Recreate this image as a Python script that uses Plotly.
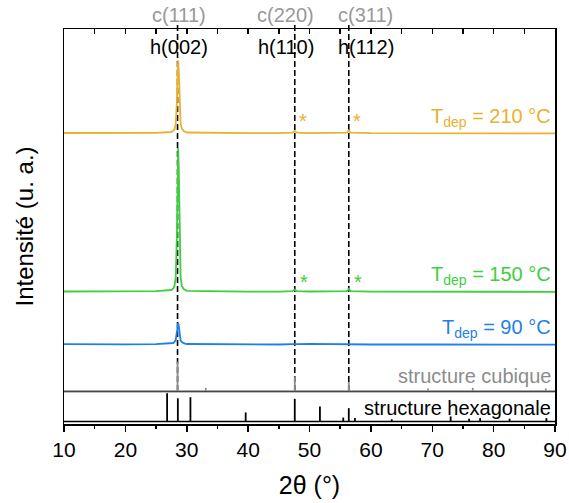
import plotly.graph_objects as go

# ---------------- data ----------------
two_theta = [10, 15, 20, 25, 27.5, 27.8, 28.0, 28.2, 28.4, 28.5, 28.6, 28.7, 28.8, 29.0, 29.2, 29.5, 30,
             35, 40, 45, 47.2, 47.6, 48.0, 50, 55, 56.1, 56.4, 56.7, 60, 70, 80, 90]
i_210 = [0.5, 0.3, 0.4, 0.6, 1.5, 2.5, 4, 9, 32, 62, 73, 63, 34, 10, 5, 2.5, 1,
         0.5, 0.3, 0.4, 0.8, 2.5, 0.8, 0.3, 0.4, 0.8, 3, 0.8, 0.3, 0.2, 0.2, 0.1]
i_150 = [0.5, 0.4, 0.5, 0.8, 2, 3.5, 6, 14, 58, 120, 144, 124, 62, 15, 6, 3, 1.2,
         0.5, 0.4, 0.4, 0.8, 2.5, 0.8, 0.5, 0.4, 0.8, 3, 0.8, 0.4, 0.3, 0.2, 0.2]
i_90 = [0.8, 0.5, 0.7, 0.9, 1.5, 2, 3, 5, 13, 19, 22, 19, 11, 4.5, 3, 1.8, 1,
        0.6, 0.5, 0.5, 0.8, 1, 0.8, 1.2, 0.6, 0.7, 1, 0.7, 0.5, 0.5, 0.4, 0.3]

cub_pos = [28.5, 33.1, 47.6, 56.4, 69.3, 76.6, 88.5]
cub_int = [100, 10, 49, 30, 8, 10, 8]

hex_pos = [26.8, 28.55, 30.6, 39.6, 47.6, 51.7, 55.5, 56.4, 57.4, 63.4, 73.0, 76.0, 77.8, 82.6, 88.6]
hex_int = [100, 82, 86, 32, 80, 53, 14, 47, 12, 8, 18, 10, 12, 10, 12]

ref_lines = [28.5, 47.6, 56.4]
cub_labels = ["c(111)", "c(220)", "c(311)"]
hex_labels = ["h(002)", "h(110)", "h(112)"]
label_x = [28.8, 46.1, 59.2]

series_names = ["T<sub>dep</sub> = 210 °C", "T<sub>dep</sub> = 150 °C", "T<sub>dep</sub> = 90 °C"]

# ---------------- styling / layout constants ----------------
C_210, C_150, C_90 = "#E8B12E", "#3DCF3D", "#1E80E6"
GRAY = "#8c8c8c"
FONT = "Arial, Liberation Sans, sans-serif"
OFF_210, OFF_150, OFF_90 = 290.5, 132, 79
CUB_BASE, CUB_SCALE = 33.2, 0.293
HEX_BASE, HEX_SCALE = 2.5, 0.283
YMAX = 395

def sticks(pos, inten, base, scale):
    xs, ys = [], []
    for p, v in zip(pos, inten):
        xs += [p, p, None]
        ys += [base, base + v * scale, None]
    return xs, ys

fig = go.Figure()
for vals, off, col, nm in [(i_210, OFF_210, C_210, "210"), (i_150, OFF_150, C_150, "150"), (i_90, OFF_90, C_90, "90")]:
    fig.add_trace(go.Scatter(x=two_theta, y=[v + off for v in vals], mode="lines",
                             line=dict(color=col, width=1.8), name=nm, showlegend=False))

cx, cy = sticks(cub_pos, cub_int, CUB_BASE, CUB_SCALE)
fig.add_trace(go.Scatter(x=cx, y=cy, mode="lines", line=dict(color=GRAY, width=1.8), showlegend=False))
hx, hy = sticks(hex_pos, hex_int, HEX_BASE, HEX_SCALE)
fig.add_trace(go.Scatter(x=hx, y=hy, mode="lines", line=dict(color="black", width=1.8), showlegend=False))
# invisible helper for the top axis
fig.add_trace(go.Scatter(x=[10], y=[0], xaxis="x2", mode="markers", marker=dict(opacity=0),
                         hoverinfo="skip", showlegend=False))

shapes = []
for p in ref_lines:
    shapes.append(dict(type="line", xref="x", yref="paper", x0=p, x1=p, y0=33 / YMAX, y1=399 / YMAX,
                       line=dict(color="black", width=1.6, dash="6px,3px"), layer="below"))
# baselines of reference panels
shapes.append(dict(type="line", xref="paper", yref="y", x0=0, x1=1, y0=32.3, y1=32.3,
                   line=dict(color="black", width=1.2)))
shapes.append(dict(type="line", xref="paper", yref="y", x0=0, x1=1, y0=CUB_BASE, y1=CUB_BASE,
                   line=dict(color=GRAY, width=1.2)))
shapes.append(dict(type="line", xref="paper", yref="y", x0=0, x1=1, y0=HEX_BASE, y1=HEX_BASE,
                   line=dict(color="black", width=1.5)))

ann = []
for t, x in zip(cub_labels, label_x):
    ann.append(dict(x=x, y=409 / YMAX, xref="x", yref="paper", text=t, showarrow=False,
                    yanchor="middle", xanchor="center",
                    font=dict(size=20, color="#999999", family=FONT)))
for t, x in zip(hex_labels, label_x):
    ann.append(dict(x=x, y=377, xref="x", yref="y", text=t, showarrow=False,
                    yanchor="middle", xanchor="center",
                    font=dict(size=20, color="black", family=FONT)))
for t, y, c in zip(series_names, [307, 149, 95.5], [C_210, C_150, C_90]):
    ann.append(dict(x=89.7, y=y, xref="x", yref="y", text=t, showarrow=False, xanchor="right",
                    yanchor="middle", font=dict(size=20, color=c, family=FONT)))
for x, y, c in [(48.9, 303, C_210), (57.7, 303, C_210), (49.1, 142, C_150), (57.9, 142, C_150)]:
    ann.append(dict(x=x, y=y, xref="x", yref="y", text="*", showarrow=False,
                    yanchor="middle", font=dict(size=20, color=c, family=FONT)))
ann.append(dict(x=89.7, y=48, xref="x", yref="y", text="structure cubique", showarrow=False,
                xanchor="right", yanchor="middle", font=dict(size=20, color=GRAY, family=FONT)))
ann.append(dict(x=89.7, y=16, xref="x", yref="y", text="structure hexagonale", showarrow=False,
                xanchor="right", yanchor="middle", font=dict(size=20, color="black", family=FONT)))

fig.update_layout(
    width=569, height=503, margin=dict(l=64, r=14, t=29, b=79, autoexpand=False),
    plot_bgcolor="white", paper_bgcolor="white",
    font=dict(family=FONT, size=20, color="black"),
    shapes=shapes, annotations=ann, hovermode=False,
    xaxis=dict(range=[10, 90], tickvals=[10, 20, 30, 40, 50, 60, 70, 80, 90], ticks="outside",
               ticklen=6, tickwidth=1.5, tickcolor="black", showline=True, linecolor="black",
               linewidth=1.5, mirror=True, showgrid=False, zeroline=False, automargin=False,
               minor=dict(dtick=5, tick0=10, ticks="outside", ticklen=3, tickwidth=1.5, tickcolor="black"),
               tickfont=dict(size=21),
               title=dict(text="2θ (°)", font=dict(size=25), standoff=17)),
    xaxis2=dict(range=[10, 90], overlaying="x", side="top", ticks="inside", dtick=5, tick0=10,
                ticklen=5, tickwidth=1.5, tickcolor="black", showticklabels=False, showline=False,
                showgrid=False, zeroline=False, automargin=False),
    yaxis=dict(range=[0, YMAX], showticklabels=False, ticks="", showline=True, linecolor="black",
               linewidth=1.5, mirror=True, showgrid=False, zeroline=False, automargin=False,
               title=dict(text="Intensité (u. a.)", font=dict(size=24), standoff=22)),
)

# remove the default page margin so the figure fills the 569x503 window exactly
fig.write_html("out.html", config={"displayModeBar": False, "staticPlot": True},
               post_script="document.body.style.margin='0';document.body.style.overflow='hidden';")
